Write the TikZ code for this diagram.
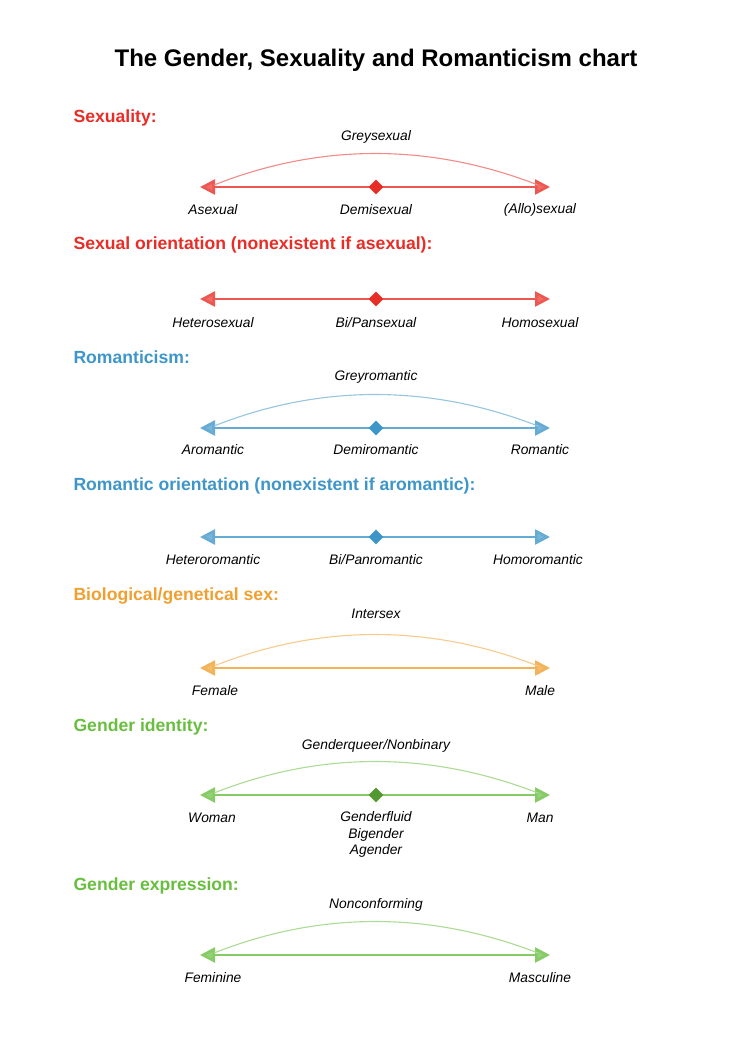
\documentclass[tikz,border=0pt]{standalone}
\usepackage{fontspec}
\setmainfont{Liberation Sans}
\usetikzlibrary{arrows.meta,shapes.geometric}
\definecolor{sexred}{RGB}{232,45,38}
\definecolor{romblue}{RGB}{62,150,200}
\definecolor{sexorange}{RGB}{240,160,48}
\definecolor{gengreen}{RGB}{104,190,62}
\tikzset{
  heading/.style={anchor=west,font=\bfseries\fontsize{17.6}{21}\selectfont},
  lbl/.style={font=\itshape\fontsize{13.8}{16.5}\selectfont},
  axis/.style={line width=2.6pt,draw=#1!80,{Triangle[width=15pt,length=15pt,fill=#1!70]}-{Triangle[width=15pt,length=15pt,fill=#1!70]}},
  arc/.style={draw=#1!55,line width=1.1pt},
  mid/.style={diamond,fill=#1,inner sep=0pt,minimum size=15pt},
}
\begin{document}
\begin{tikzpicture}[x=1pt,y=-1pt]
  \useasboundingbox(0,0)rectangle(751,1063);
  \node[font=\bfseries\fontsize{24}{28}\selectfont](title)at(376,60){The Gender, Sexuality and Romanticism chart};
  % sexuality
  \node[heading,text=sexred](h1)at(70,118){Sexuality:};
  \coordinate(l1)at(200,187);\coordinate(r1)at(550,187);
  \draw[axis=sexred](l1)--(r1);
  \draw[arc=sexred](214,185)..controls(320,143)and(430,143)..(538,185);
  \node[mid=sexred](m1)at(376,187){};
  \node[lbl](g1)at(376,137){Greysexual};
  \node[lbl](a1)at(213,210){Asexual};
  \node[lbl](b1)at(376,210){Demisexual};
  \node[lbl](c1)at(540,210){(Allo)sexual};
  % sexual orientation
  \node[heading,text=sexred](h2)at(70,245){Sexual orientation (nonexistent if asexual):};
  \coordinate(l2)at(200,299);\coordinate(r2)at(550,299);
  \draw[axis=sexred](l2)--(r2);
  \node[mid=sexred](m2)at(376,299){};
  \node[lbl](a2)at(213,323){Heterosexual};
  \node[lbl](b2)at(376,323){Bi/Pansexual};
  \node[lbl](c2)at(540,323){Homosexual};
  % romanticism
  \node[heading,text=romblue](h3)at(70,357){Romanticism:};
  \coordinate(l3)at(200,428);\coordinate(r3)at(550,428);
  \draw[axis=romblue](l3)--(r3);
  \draw[arc=romblue](214,426)..controls(320,384)and(430,384)..(538,426);
  \node[mid=romblue](m3)at(376,428){};
  \node[lbl](g3)at(376,377){Greyromantic};
  \node[lbl](a3)at(213,450){Aromantic};
  \node[lbl](b3)at(376,450){Demiromantic};
  \node[lbl](c3)at(540,450){Romantic};
  % romantic orientation
  \node[heading,text=romblue](h4)at(70,486){Romantic orientation (nonexistent if aromantic):};
  \coordinate(l4)at(200,537);\coordinate(r4)at(550,537);
  \draw[axis=romblue](l4)--(r4);
  \node[mid=romblue](m4)at(376,537){};
  \node[lbl](a4)at(213,560){Heteroromantic};
  \node[lbl](b4)at(376,560){Bi/Panromantic};
  \node[lbl](c4)at(538,560){Homoromantic};
  % biological sex
  \node[heading,text=sexorange](h5)at(70,596){Biological/genetical sex:};
  \coordinate(l5)at(200,668);\coordinate(r5)at(550,668);
  \draw[axis=sexorange](l5)--(r5);
  \draw[arc=sexorange](214,666)..controls(320,624)and(430,624)..(538,666);
  \node[lbl](g5)at(376,614){Intersex};
  \node[lbl](a5)at(215,691){Female};
  \node[lbl](c5)at(540,691){Male};
  % gender identity
  \node[heading,text=gengreen](h6)at(70,727){Gender identity:};
  \coordinate(l6)at(200,795);\coordinate(r6)at(550,795);
  \draw[axis=gengreen](l6)--(r6);
  \draw[arc=gengreen](214,793)..controls(320,751)and(430,751)..(538,793);
  \node[mid=gengreen!80!black](m6)at(376,795){};
  \node[lbl](g6)at(376,746){Genderqueer/Nonbinary};
  \node[lbl](a6)at(212,818){Woman};
  \node[lbl,align=center,anchor=north](b6)at(376,808){Genderfluid\\Bigender\\Agender};
  \node[lbl](c6)at(540,818){Man};
  % gender expression
  \node[heading,text=gengreen](h7)at(70,886){Gender expression:};
  \coordinate(l7)at(200,955);\coordinate(r7)at(550,955);
  \draw[axis=gengreen](l7)--(r7);
  \draw[arc=gengreen](214,953)..controls(320,911)and(430,911)..(538,953);
  \node[lbl](g7)at(376,905){Nonconforming};
  \node[lbl](a7)at(213,978){Feminine};
  \node[lbl](c7)at(540,978){Masculine};
\end{tikzpicture}
\end{document}
